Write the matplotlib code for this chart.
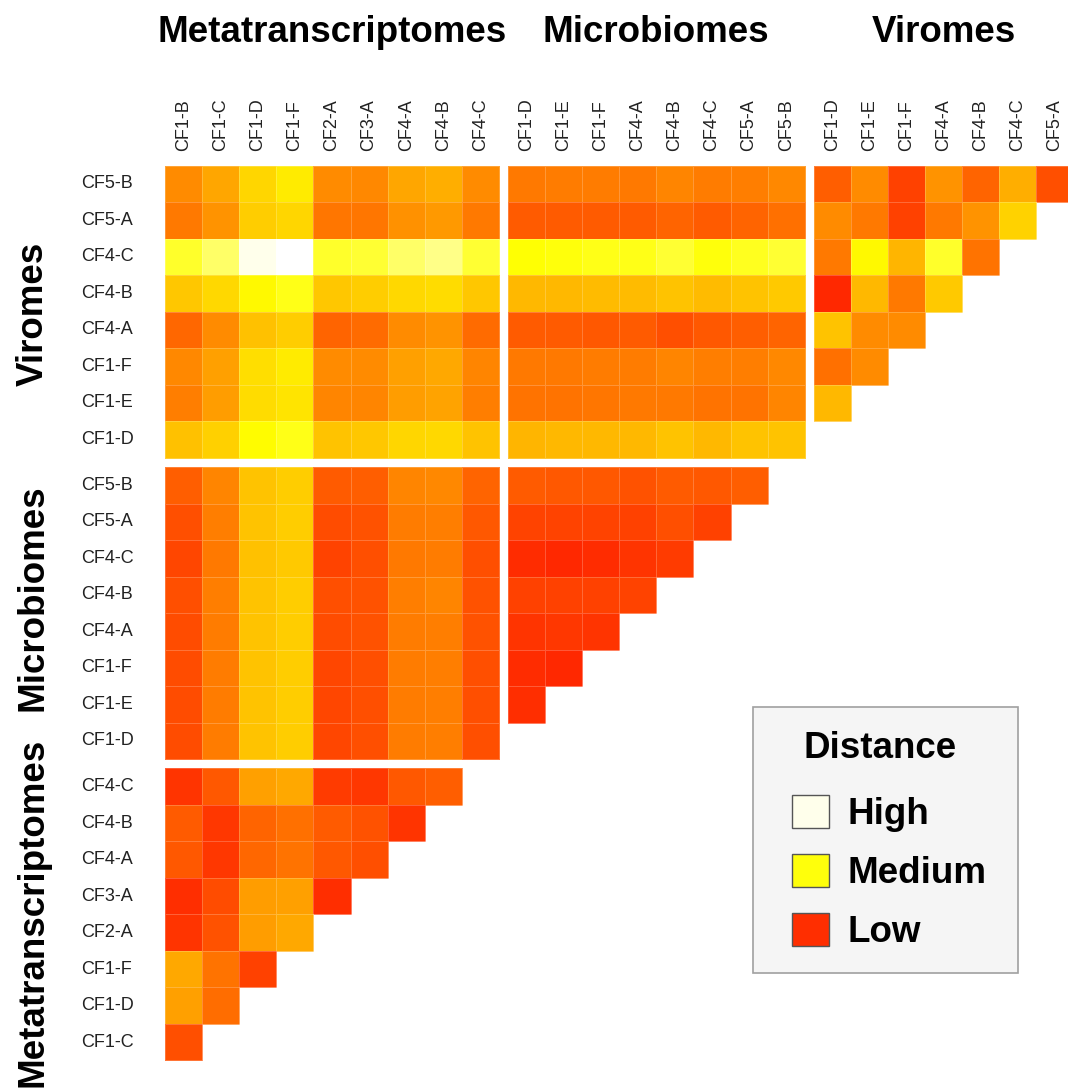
import numpy as np
import matplotlib
matplotlib.use("Agg")
import matplotlib.pyplot as plt
from matplotlib.colors import LinearSegmentedColormap, Normalize
from matplotlib.patches import Patch, Rectangle

# column groups (left to right) and row groups (top to bottom)
META_COLS = ["CF1-B", "CF1-C", "CF1-D", "CF1-F", "CF2-A", "CF3-A", "CF4-A", "CF4-B", "CF4-C"]
MICRO_COLS = ["CF1-D", "CF1-E", "CF1-F", "CF4-A", "CF4-B", "CF4-C", "CF5-A", "CF5-B"]
VIRO_COLS = ["CF1-D", "CF1-E", "CF1-F", "CF4-A", "CF4-B", "CF4-C", "CF5-A"]

VIRO_ROWS = ["CF5-B", "CF5-A", "CF4-C", "CF4-B", "CF4-A", "CF1-F", "CF1-E", "CF1-D"]
MICRO_ROWS = ["CF5-B", "CF5-A", "CF4-C", "CF4-B", "CF4-A", "CF1-F", "CF1-E", "CF1-D"]
META_ROWS = ["CF4-C", "CF4-B", "CF4-A", "CF3-A", "CF2-A", "CF1-F", "CF1-D", "CF1-C"]

GROUPS = ["Metatranscriptomes", "Microbiomes", "Viromes"]

# distance scores, 0 = low (red) .. 100 = high (white)
VIRO_X_META = [
    [36, 45, 61, 68, 36, 35, 45, 48, 36],
    [30, 39, 58, 61, 29, 29, 38, 41, 30],
    [79, 85, 98, 100, 79, 80, 85, 88, 80],
    [56, 62, 73, 77, 56, 58, 62, 63, 56],
    [24, 36, 54, 58, 23, 25, 36, 39, 25],
    [35, 43, 64, 68, 36, 36, 43, 46, 34],
    [32, 42, 63, 66, 34, 34, 42, 44, 32],
    [54, 59, 74, 77, 55, 56, 61, 62, 55],
]
VIRO_X_MICRO = [
    [30, 31, 31, 30, 34, 31, 32, 35],
    [20, 20, 20, 20, 23, 20, 23, 27],
    [75, 76, 77, 77, 80, 76, 78, 80],
    [51, 51, 52, 52, 55, 52, 55, 57],
    [20, 20, 19, 20, 16, 19, 21, 23],
    [30, 30, 31, 31, 34, 32, 32, 35],
    [28, 28, 29, 30, 30, 28, 28, 34],
    [50, 51, 51, 51, 55, 51, 55, 55],
]
VIRO_X_VIRO = [
    [21, 36, 11, 39, 23, 48, 16],
    [36, 30, 11, 30, 39, 60],
    [30, 73, 50, 79, 28],
    [3, 51, 30, 57],
    [55, 36, 36],
    [27, 36],
    [51],
    [],
]
MICRO_X_META = [
    [21, 34, 55, 58, 20, 21, 34, 35, 23],
    [16, 32, 55, 58, 15, 17, 31, 32, 19],
    [13, 30, 54, 57, 12, 16, 30, 31, 16],
    [16, 32, 55, 58, 16, 17, 32, 34, 17],
    [15, 31, 55, 58, 15, 17, 31, 32, 17],
    [15, 31, 55, 58, 13, 16, 31, 32, 16],
    [15, 31, 55, 58, 13, 16, 31, 32, 16],
    [15, 31, 55, 58, 13, 16, 31, 32, 16],
]
MICRO_X_MICRO = [
    [20, 19, 19, 17, 20, 19, 21],
    [12, 12, 12, 11, 16, 11],
    [4, 3, 4, 7, 9],
    [11, 11, 11, 12],
    [7, 8, 7],
    [4, 3],
    [5],
    [],
]
META_X_META = [
    [7, 19, 43, 46, 9, 8, 19, 21],
    [20, 8, 23, 27, 20, 17, 7],
    [19, 8, 24, 28, 19, 16],
    [5, 15, 42, 43, 5],
    [7, 17, 42, 46],
    [46, 28, 11],
    [43, 26],
    [16],
]

LEGEND_LABELS = ["High", "Medium", "Low"]
LEGEND_LEVELS = [98, 76, 5]

# layout (pixels)
W, H = 1068, 1091
CELL_W, CELL_H = 37.1, 36.5
COL_STARTS = [165.0, 507.9, 813.7]
ROW_STARTS = [165.7, 467.0, 768.3]

cmap = LinearSegmentedColormap.from_list(
    "heat", [(0.0, "#ff2000"), (0.75, "#ffff00"), (1.0, "#ffffff")])
norm = Normalize(0, 100)

FONT = "Liberation Sans"

fig = plt.figure(figsize=(W / 100, H / 100), dpi=100)
ax = fig.add_axes([0, 0, 1, 1])
ax.set_xlim(0, W)
ax.set_ylim(H, 0)
ax.axis("off")


def to_grid(rows, ncols):
    arr = np.full((len(rows), ncols), np.nan)
    for i, r in enumerate(rows):
        arr[i, :len(r)] = r
    return np.ma.masked_invalid(arr)


def draw_block(values, ncols, x0, y0):
    grid = to_grid(values, ncols)
    xe = x0 + np.arange(ncols + 1) * CELL_W
    ye = y0 + np.arange(grid.shape[0] + 1) * CELL_H
    ax.pcolormesh(xe, ye, grid, cmap=cmap, norm=norm,
                  edgecolors=(1, 1, 1, 0.22), linewidth=0.6)


col_sets = [META_COLS, MICRO_COLS, VIRO_COLS]
row_sets = [VIRO_ROWS, MICRO_ROWS, META_ROWS]

draw_block(VIRO_X_META, len(META_COLS), COL_STARTS[0], ROW_STARTS[0])
draw_block(VIRO_X_MICRO, len(MICRO_COLS), COL_STARTS[1], ROW_STARTS[0])
draw_block(VIRO_X_VIRO, len(VIRO_COLS), COL_STARTS[2], ROW_STARTS[0])
draw_block(MICRO_X_META, len(META_COLS), COL_STARTS[0], ROW_STARTS[1])
draw_block(MICRO_X_MICRO, len(MICRO_COLS), COL_STARTS[1], ROW_STARTS[1])
draw_block(META_X_META, len(META_COLS), COL_STARTS[0], ROW_STARTS[2])

# column labels + group titles on top
for cols, x0, name in zip(col_sets, COL_STARTS, GROUPS):
    for j, lab in enumerate(cols):
        ax.text(x0 + (j + 0.5) * CELL_W, 151, lab, rotation=90,
                rotation_mode="anchor", ha="left", va="center",
                family=FONT, fontsize=13, color="#222222")
    ax.text(x0 + len(cols) * CELL_W / 2, 42, name, ha="center",
            va="baseline", family=FONT, fontsize=26.5, fontweight="bold")

# row labels + group titles on the left
side_y = [314, 598, 912]
for rows, y0, name, sy in zip(row_sets, ROW_STARTS, GROUPS[::-1], side_y):
    for i, lab in enumerate(rows):
        ax.text(81, y0 + (i + 0.5) * CELL_H, lab, ha="left", va="center",
                family=FONT, fontsize=13, color="#222222")
    ax.text(43, sy, name, rotation=90, rotation_mode="anchor",
            ha="center", va="baseline", family=FONT, fontsize=26.5,
            fontweight="bold")

# legend box
ax.add_patch(Rectangle((753, 707), 265, 266, facecolor="#f5f5f5",
                       edgecolor="#a0a0a0", linewidth=1.2, zorder=3))
ax.text(880, 758, "Distance", ha="center", va="baseline", family=FONT,
        fontsize=26.5, fontweight="bold", zorder=4)
handles = [Patch(facecolor=cmap(norm(v)), edgecolor="#555555", linewidth=1)
           for v in LEGEND_LEVELS]
leg = ax.legend(handles, LEGEND_LABELS, loc="upper left",
                bbox_to_anchor=(792 / W, 1 - 795 / H), borderaxespad=0,
                prop={"family": FONT, "weight": "bold", "size": 26.5},
                handlelength=1.0, handleheight=1.0, handletextpad=0.52,
                labelspacing=0.6, borderpad=0, frameon=False)
leg.set_zorder(5)

fig.savefig("out.png", dpi=100)
